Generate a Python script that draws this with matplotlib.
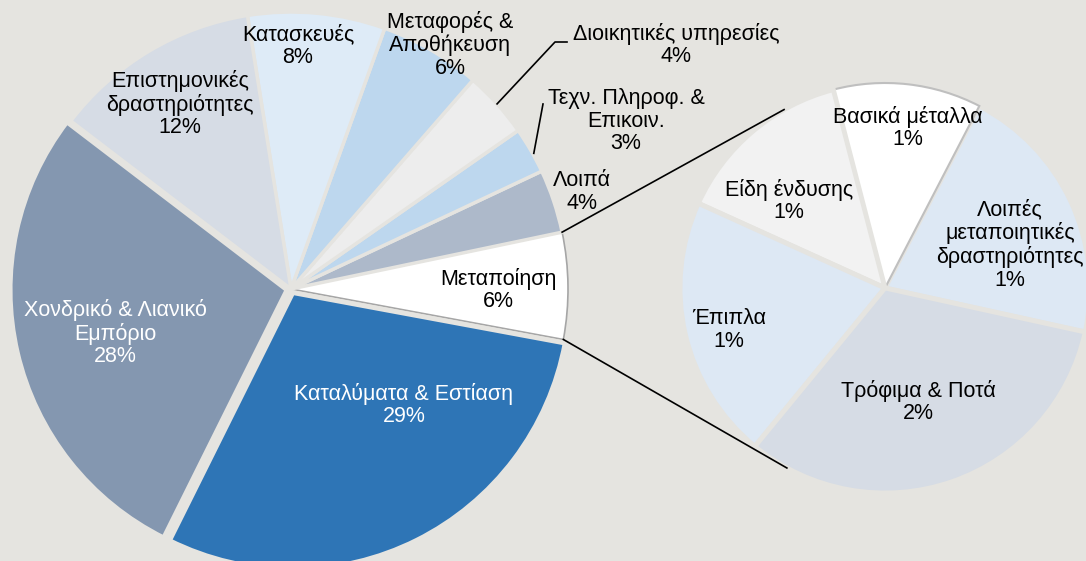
import matplotlib.pyplot as plt
import numpy as np

plt.rcParams['font.family'] = ['Liberation Sans', 'DejaVu Sans']

# main pie, counterclockwise starting from "Μεταποίηση"
main_labels = ['Μεταποίηση', 'Λοιπά', 'Τεχν. Πληροφ. &\nΕπικοιν.', 'Διοικητικές υπηρεσίες',
               'Μεταφορές &\nΑποθήκευση', 'Κατασκευές', 'Επιστημονικές\nδραστηριότητες',
               'Χονδρικό & Λιανικό\nΕμπόριο', 'Καταλύματα & Εστίαση']
main_values = [6.2, 3.7, 2.7, 3.9, 5.9, 8.0, 12.1, 28.0, 29.4]
main_colors = ['#FFFFFF', '#ADB9CA', '#BDD7EE', '#EDEDED', '#BDD7EE', '#DEEBF7',
               '#D6DCE5', '#8497B0', '#2E75B6']

# breakdown of "Μεταποίηση", counterclockwise
sub_labels = ['Λοιπές\nμεταποιητικές\nδραστηριότητες', 'Βασικά μέταλλα', 'Είδη ένδυσης',
              'Έπιπλα', 'Τρόφιμα & Ποτά']
sub_values = [1.25, 0.7, 0.85, 1.25, 1.95]
sub_colors = ['#DDE8F4', '#FFFFFF', '#F2F2F2', '#DDE8F4', '#D6DCE5']

bg = '#E5E4E0'
W, H = 1086, 561

fig = plt.figure(figsize=(W / 100, H / 100), dpi=100)
fig.patch.set_facecolor(bg)
ax = fig.add_axes([0, 0, 1, 1])
ax.set_facecolor(bg)

c_main = (291, H - 289)
r_main = 277
c_sub = (885, H - 288)
r_sub = 205

explode = [0, 0, 0, 0, 0, 0, 0, 4, 4]
wedges_main, _ = ax.pie(main_values, colors=main_colors, startangle=-10.5, radius=r_main,
                        center=c_main, counterclock=True, explode=explode,
                        wedgeprops=dict(edgecolor=bg, linewidth=2.5))
wedges_main[0].set_edgecolor('#A6A6A6')
wedges_main[0].set_linewidth(1.2)
for w in wedges_main[7:]:
    w.set_linewidth(3.5)

wedges_sub, _ = ax.pie(sub_values, colors=sub_colors, startangle=-12.4, radius=r_sub,
                       center=c_sub, counterclock=True,
                       wedgeprops=dict(edgecolor=bg, linewidth=3.5))
wedges_sub[1].set_edgecolor('#BFBFBF')
wedges_sub[1].set_linewidth(1.5)


def pt(c, r, ang):
    a = np.deg2rad(ang)
    return c[0] + r * np.cos(a), c[1] + r * np.sin(a)


# connector lines between the pies
p1 = pt(c_main, r_main, wedges_main[0].theta2)
p2 = pt(c_sub, r_sub, 119.5)
ax.plot([p1[0], p2[0]], [p1[1], p2[1]], color='black', lw=1.2)
p1 = pt(c_main, r_main, wedges_main[0].theta1)
p2 = pt(c_sub, r_sub, -118.6)
ax.plot([p1[0], p2[0]], [p1[1], p2[1]], color='black', lw=1.2)

fs = 15.5
ls = 1.1
# main labels (pixel positions, y from top)
main_pos = [(498, 290), (582, 192), (626, 121), (676, 45), (450, 45), (298, 46),
            (180, 104), (115, 333), (404, 405)]
for i, (lab, v, (x, y)) in enumerate(zip(main_labels, main_values, main_pos)):
    col = 'white' if i >= 7 else 'black'
    ax.text(x, H - y, f'{lab}\n{v:.0f}%', ha='center', va='center', fontsize=fs,
            color=col, linespacing=ls)

# leader lines for small slices
m = pt(c_main, r_main, (wedges_main[3].theta1 + wedges_main[3].theta2) / 2)
ax.plot([m[0], 555, 567], [m[1], H - 42, H - 42], color='black', lw=1.2)
m = pt(c_main, r_main, (wedges_main[2].theta1 + wedges_main[2].theta2) / 2)
ax.plot([m[0] + 3, 543], [m[1] - 3, H - 104], color='black', lw=1.2)

sub_pos = [(1010, 245), (908, 128), (789, 201), (729, 330), (918, 402)]
for lab, v, (x, y) in zip(sub_labels, sub_values, sub_pos):
    ax.text(x, H - y, f'{lab}\n{v:.0f}%', ha='center', va='center', fontsize=fs,
            color='black', linespacing=ls)

ax.set_xlim(0, W)
ax.set_ylim(0, H)
ax.set_aspect('equal')
ax.axis('off')

fig.savefig('out.png', dpi=100, facecolor=bg)
